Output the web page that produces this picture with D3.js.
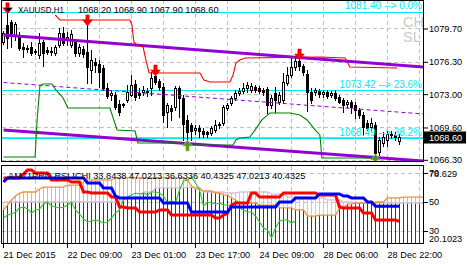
<!DOCTYPE html>
<html><head><meta charset="utf-8">
<script src="https://cdn.jsdelivr.net/npm/d3@7"></script>
<style>
html,body{margin:0;padding:0;background:#fff;overflow:hidden}
svg{display:block}
text{font-family:"Liberation Sans",Arial,sans-serif}
</style>
</head><body>
<svg id="c" width="467" height="265"></svg>
<script>
// ---------------- DATA ----------------
const symbolTitle = "XAUUSD,H1";
const ohlcTitle = "1068.20 1068.90 1067.90 1068.60";
const subTitle = "AM71PRO RSI ICHI 33.8438 47.0213 36.6336 40.4325 47.0213 40.4325";

const timeTickBars = [0,16,32,48,64,80,96];
const timeTickLabels = ["21 Dec 2015","22 Dec 09:00","23 Dec 01:00","23 Dec 17:00","24 Dec 09:00","28 Dec 06:00","28 Dec 22:00"];
const priceTicks = [1079.70,1076.30,1073.00,1069.60,1066.30];
const subLevels = [70,50,30];
const subMaxLabel = "78.629";
const subMinLabel = "20.1023";
const bidPrice = 1068.60;

const fibValues = [1081.40,1073.42,1068.49];
const fibLabels = ["1081.40 --> 0.0%","1073.42 --> 23.6%","1068.49 --> 38.2%"];

const opens = [1078.32,1080.06,1080.36,1079.04,1078.83,1077.81,1077.61,1077.81,1077.30,1077.00,
1078.32,1077.51,1077.30,1077.20,1078.02,1079.24,1078.53,1078.02,1078.32,1077.20,
1077.61,1077.30,1075.47,1076.28,1076.08,1075.67,1073.63,1072.92,1072.92,1072.00,
1071.90,1072.41,1072.92,1074.04,1073.12,1073.22,1073.22,1073.63,1074.86,1074.34,
1073.73,1071.18,1071.59,1071.69,1073.63,1072.61,1070.37,1069.86,1069.35,1069.55,
1069.24,1069.14,1069.04,1069.35,1069.86,1070.06,1071.59,1072.10,1072.61,1073.12,
1073.33,1073.63,1073.43,1073.73,1073.63,1073.43,1073.53,1071.90,1073.12,1072.20,
1072.41,1074.14,1074.96,1075.77,1076.38,1075.88,1075.06,1073.22,1073.22,1073.33,
1073.02,1073.22,1072.92,1073.12,1072.71,1072.41,1072.00,1072.20,1071.90,1071.39,
1070.88,1070.06,1069.65,1069.86,1067.10,1068.02,1068.33,1068.94,1068.84,1068.20];
const highs = [1079.45,1081.40,1080.57,1080.36,1079.34,1078.22,1078.02,1078.32,1077.61,1079.24,
1078.53,1077.81,1077.81,1078.02,1079.75,1079.85,1079.34,1079.55,1078.63,1078.12,
1077.92,1080.16,1077.51,1076.69,1076.49,1075.98,1074.14,1073.43,1073.22,1072.41,
1072.10,1073.94,1074.96,1074.45,1073.63,1073.84,1073.63,1075.26,1075.06,1074.55,
1074.14,1072.10,1071.90,1073.84,1073.84,1072.92,1070.88,1070.06,1069.86,1069.86,
1069.55,1069.24,1069.75,1070.37,1070.16,1071.90,1072.10,1072.82,1073.43,1073.63,
1074.14,1074.24,1074.14,1073.94,1073.84,1073.63,1073.73,1072.92,1073.73,1073.22,
1075.16,1075.77,1076.69,1076.79,1076.69,1076.08,1075.47,1073.63,1073.63,1073.53,
1073.43,1073.43,1073.33,1073.43,1072.92,1072.61,1072.41,1072.41,1072.20,1071.59,
1071.18,1070.37,1070.57,1070.16,1068.63,1069.14,1069.24,1069.24,1069.14,1068.90];
const lows = [1078.12,1077.71,1077.81,1078.53,1077.51,1076.79,1077.30,1077.00,1077.10,1076.69,
1075.88,1077.10,1077.00,1077.00,1077.81,1078.02,1078.02,1077.81,1076.90,1076.90,
1076.79,1074.14,1074.14,1075.26,1073.73,1073.43,1072.61,1072.41,1071.49,1070.88,
1071.69,1072.20,1072.82,1072.41,1072.61,1072.92,1072.82,1072.92,1074.04,1073.43,
1070.16,1069.65,1070.37,1071.39,1070.67,1068.33,1068.02,1068.33,1068.94,1068.63,
1068.63,1068.63,1068.84,1069.14,1069.55,1069.86,1071.39,1071.90,1072.41,1072.92,
1073.12,1073.22,1073.22,1073.22,1073.12,1072.92,1071.08,1071.59,1071.18,1072.00,
1072.10,1073.94,1074.75,1075.47,1075.47,1074.96,1071.28,1072.10,1072.92,1072.71,
1072.71,1072.61,1072.71,1072.41,1072.10,1071.18,1071.69,1071.08,1070.57,1070.57,
1068.84,1069.35,1069.35,1066.59,1066.79,1067.72,1067.72,1068.53,1068.33,1067.90];
const closes = [1079.24,1078.73,1079.24,1080.16,1077.71,1077.61,1077.71,1077.20,1077.41,1078.22,
1077.20,1077.30,1077.41,1077.81,1079.24,1078.22,1078.83,1079.14,1077.20,1077.81,
1077.10,1075.77,1076.49,1075.98,1075.26,1073.63,1072.82,1073.12,1071.69,1071.18,
1072.00,1073.22,1073.94,1072.71,1072.92,1073.43,1073.33,1074.65,1074.24,1073.73,
1070.88,1071.90,1071.28,1073.63,1072.61,1069.96,1069.14,1069.24,1069.55,1069.24,
1068.94,1068.94,1069.55,1069.86,1069.96,1071.69,1071.90,1072.61,1073.12,1073.33,
1073.63,1073.94,1073.84,1073.43,1073.33,1073.22,1071.90,1072.61,1072.41,1072.92,
1074.24,1074.96,1075.77,1076.38,1075.88,1075.26,1073.22,1072.41,1073.43,1073.02,
1073.22,1072.82,1073.12,1072.61,1072.20,1071.90,1072.20,1071.69,1071.39,1070.88,
1069.65,1069.55,1070.06,1067.00,1068.33,1068.63,1068.94,1068.84,1068.63,1068.60];

// channel trend lines: [bar, price] end points
const channelBars = [0,105];
const channelUpper = [1079.04,1075.77];
const channelMid = [1074.19,1070.98];
const channelLower = [1069.34,1066.18];

// stepped envelopes (break points)
const redEnvBars = [12.9,14.1,31.6,32.1,32.6,33.4,34.9,35.6,36.4,49.1,50.1,51.6,56.6,57.4,58.1,59.1,60.4,79.1,85.4,86.6,98.4];
const redEnvPrices = [1081.08,1080.57,1080.57,1080.06,1078.32,1078.02,1077.81,1076.49,1075.16,1075.16,1074.45,1074.24,1074.24,1074.96,1076.18,1076.49,1076.69,1076.79,1076.69,1075.77,1075.67];
const greenEnvBars = [0,7.9,8.4,9.1,9.9,12.1,13.1,14.9,16.1,26.6,28.4,32.9,33.6,44.6,45.4,57.4,58.1,59.1,61.6,62.9,64.6,66.6,71.6,74.1,75.9,77.9,79.1,79.6,92.4];
const greenEnvPrices = [1066.59,1066.59,1070.37,1073.84,1074.04,1074.04,1073.43,1072.61,1071.59,1071.59,1069.35,1069.24,1068.02,1068.02,1067.81,1067.81,1068.33,1068.53,1068.63,1069.35,1070.37,1071.08,1071.08,1070.88,1070.37,1069.35,1068.84,1066.49,1066.49];

const sellSignalBars = [1,21,38,74];
const buySignalBars = [46,93];

// sub-window series
const kijun = [63.8,66.6,66.6,66.6,66.6,66.6,66.6,66.6,66.6,66.6,
66.6,66.6,66.6,66.6,66.6,66.6,66.6,66.6,66.6,66.6,
66.6,63.1,63.1,63.1,63.1,59.7,59.7,59.7,54.1,52.8,
52.8,52.8,52.8,52.8,52.8,52.8,52.8,52.8,52.8,52.8,
49.3,49.3,49.3,49.3,49.3,49.3,49.3,43.1,43.1,43.1,
43.1,43.1,43.1,43.1,43.1,43.1,43.1,46.6,46.6,46.6,
46.6,46.6,46.6,46.6,46.6,46.6,46.6,46.6,46.6,50.0,
50.0,50.0,50.0,52.8,52.8,52.8,52.8,52.8,52.8,55.5,
55.5,55.5,55.5,55.5,55.5,54.1,54.1,52.8,52.8,52.8,
52.8,50.0,50.0,47.02,47.02,47.02,47.02,47.02,47.02,47.02];
const tenkan = [66.6,66.6,66.6,66.6,66.6,69.3,72.1,72.1,70.0,70.0,
70.0,70.0,65.2,65.2,65.2,65.2,65.2,63.8,63.8,63.8,
56.9,56.9,56.2,56.2,56.2,56.2,56.2,53.4,53.4,46.6,
46.6,45.9,45.9,45.9,43.1,43.1,43.1,43.1,43.1,44.5,
44.5,44.5,41.0,41.0,41.0,41.0,41.0,41.0,41.0,41.0,
41.0,41.0,41.0,39.0,39.0,41.0,42.4,47.9,49.3,49.3,
49.3,49.3,56.2,56.2,53.4,53.4,53.4,53.4,53.4,53.4,
56.2,56.2,56.2,56.2,56.2,56.2,56.2,56.2,56.2,54.8,
54.8,54.8,54.8,54.8,46.6,45.9,45.9,45.9,45.9,45.9,
42.4,42.4,42.4,37.6,37.6,37.6,37.6,37.6,37.6,36.63];
const chikou = [39.0,41.0,41.7,43.1,45.9,46.6,45.2,42.4,44.5,45.2,
48.6,50.0,47.2,46.6,45.9,46.6,47.9,50.0,44.5,41.7,
38.3,36.2,36.9,37.6,36.9,35.5,36.2,39.0,42.4,44.5,
51.4,53.4,54.8,56.2,55.5,56.2,54.8,56.9,56.9,56.2,
54.1,49.3,50.7,49.3,58.3,64.5,65.2,67.2,63.1,58.3,
47.2,50.0,49.3,48.6,49.3,47.9,47.9,47.2,46.6,45.9,
44.5,43.1,43.1,40.3,36.2,32.1,30.7,25.2,32.1,36.9,
37.6,37.6,35.5,36.9];
const spanA = [44.5,47.9,51.4,54.1,56.2,56.9,56.9,56.9,56.9,59.0,
60.3,60.3,60.3,60.3,60.3,60.3,61.7,61.7,61.7,61.7,
63.8,65.2,65.2,65.2,65.2,65.2,65.2,65.2,66.6,66.6,
66.6,66.6,66.6,66.6,66.6,66.6,66.6,66.6,66.6,66.6,
66.6,66.6,66.6,66.6,66.6,66.6,65.2,61.0,59.0,59.0,
57.6,57.6,57.6,56.2,56.2,54.8,54.8,52.8,51.4,49.3,
49.3,49.3,49.3,49.3,47.9,47.9,47.9,47.9,47.9,45.9,
45.9,45.9,45.9,44.5,44.5,44.5,40.3,40.3,40.3,41.0,
41.0,41.0,41.0,41.0,45.9,45.9,48.6,48.6,49.3,49.3,
49.3,49.3,49.3,50.0,50.0,50.0,52.8,52.8,52.8,52.8,
53.4,53.4,53.4,53.4,53.4,53.4];
const spanB = [50.0,50.0,50.0,50.0,50.0,50.0,50.0,50.0,50.0,50.0,
50.0,50.0,50.0,50.0,50.0,50.0,50.0,50.0,50.0,50.0,
50.0,50.0,50.0,50.0,50.0,50.0,50.0,50.0,50.0,50.0,
51.4,52.8,53.4,53.4,53.4,56.9,56.9,56.9,59.7,59.7,
59.7,59.7,59.7,59.7,59.7,59.7,60.3,60.3,60.3,60.3,
56.9,56.9,56.9,56.9,56.9,56.9,56.2,56.2,56.2,56.9,
56.9,56.9,56.9,56.9,56.9,56.9,56.9,55.5,55.5,55.5,
55.5,53.4,53.4,53.4,53.4,53.4,53.4,52.8,52.8,52.8,
52.8,51.4,51.4,51.4,51.4,50.0,50.0,50.0,49.3,49.3,
49.3,49.3,49.3,49.3,49.3,49.3,49.3,49.3,49.3,49.3,
49.3,49.3,49.3,49.3,49.3,49.3];

// ---------------- DRAW ----------------
const svg = d3.select("#c");
const FONT = "'Liberation Sans', Arial, sans-serif";
const FS = 9.2;
const mainTop = 0, mainBot = 161, subTop = 166, subBot = 243, left = 2, right = 423;

const xs = d3.scaleLinear().domain([0,105]).range([3,423]);
const px = i => xs(i) + 0.5;
const ym = d3.scaleLinear().domain([1066.18,1082.506]).range([161,1]);
const ys = d3.scaleLinear().domain([21.72,74.83]).range([243,166]);
const ry = v => Math.round(v) + 0.5;

const defs = svg.append("defs");
defs.append("clipPath").attr("id","cm").append("rect").attr("x",left).attr("y",mainTop).attr("width",right-left).attr("height",mainBot-mainTop);
defs.append("clipPath").attr("id","cs").append("rect").attr("x",left).attr("y",subTop).attr("width",right-left).attr("height",subBot-subTop);

const grey = "#c0c0c0";
const gridBars = d3.range(8,105,8);

// ---- main window
const gm = svg.append("g").attr("clip-path","url(#cm)");
gm.selectAll("line.hg").data(priceTicks).join("line")
  .attr("x1",left).attr("x2",right).attr("y1",d=>ry(ym(d))).attr("y2",d=>ry(ym(d)))
  .attr("stroke",grey).attr("stroke-dasharray","4,3").attr("shape-rendering","crispEdges");
gm.selectAll("line.vg").data(gridBars).join("line")
  .attr("x1",px).attr("x2",px).attr("y1",mainTop).attr("y2",mainBot)
  .attr("stroke",grey).attr("stroke-dasharray","4,3").attr("shape-rendering","crispEdges");

const cyan = "#00e8f0";
gm.selectAll("line.fib").data(fibValues).join("line")
  .attr("x1",left).attr("x2",right).attr("y1",d=>ry(ym(d))).attr("y2",d=>ry(ym(d)))
  .attr("stroke",cyan).attr("stroke-width",1.2).attr("shape-rendering","crispEdges");
gm.append("line").attr("x1",left).attr("x2",right).attr("y1",ry(ym(bidPrice))).attr("y2",ry(ym(bidPrice)))
  .attr("stroke","#b8b8b8").attr("shape-rendering","crispEdges");

// candles
const idx = d3.range(opens.length);
gm.append("g").selectAll("line").data(idx).join("line")
  .attr("x1",px).attr("x2",px)
  .attr("y1",i=>Math.round(ym(highs[i]))).attr("y2",i=>Math.round(ym(lows[i]))+1)
  .attr("stroke","#000").attr("shape-rendering","crispEdges");
const bodyTop = i => Math.round(ym(Math.max(opens[i],closes[i])));
const bodyBot = i => Math.round(ym(Math.min(opens[i],closes[i])));
gm.append("g").selectAll("rect").data(idx.filter(i=>bodyBot(i)-bodyTop(i)>=1)).join("rect")
  .attr("x",i=>xs(i)-0.5).attr("width",2)
  .attr("y",i=>bodyTop(i)+0.5).attr("height",i=>bodyBot(i)-bodyTop(i))
  .attr("fill",i=>closes[i]>=opens[i]?"#fff":"#000").attr("stroke","#000").attr("shape-rendering","crispEdges");
gm.append("g").selectAll("line").data(idx.filter(i=>bodyBot(i)-bodyTop(i)<1)).join("line")
  .attr("x1",i=>xs(i)-1).attr("x2",i=>xs(i)+2).attr("y1",i=>bodyTop(i)+0.5).attr("y2",i=>bodyTop(i)+0.5)
  .attr("stroke","#000").attr("shape-rendering","crispEdges");

// channel
const purple = "#9400d3";
const chLine = d3.line().x(d=>xs(d[0])+0.5).y(d=>ym(d[1]));
[[channelUpper,3,null],[channelLower,3,null],[channelMid,1,"4,3"]].forEach(([vals,w,dash])=>{
  gm.append("path").attr("d",chLine(channelBars.map((b,k)=>[b,vals[k]])))
    .attr("fill","none").attr("stroke",purple).attr("stroke-width",w).attr("stroke-dasharray",dash);
});
// envelopes
gm.append("path").attr("d",chLine(redEnvBars.map((b,k)=>[b,redEnvPrices[k]])))
  .attr("fill","none").attr("stroke","#ff0000").attr("stroke-width",1.1);
gm.append("path").attr("d",chLine(greenEnvBars.map((b,k)=>[b,greenEnvPrices[k]])))
  .attr("fill","none").attr("stroke","#008000").attr("stroke-width",1.1);

// arrows
function downArrow(tx,ty){return `M${tx-1.6},${ty-11}L${tx+1.6},${ty-11}L${tx+1.6},${ty-6}L${tx+4.8},${ty-6}L${tx},${ty}L${tx-4.8},${ty-6}L${tx-1.6},${ty-6}Z`;}
function upArrow(tx,ty){return `M${tx-1.6},${ty+11}L${tx+1.6},${ty+11}L${tx+1.6},${ty+6}L${tx+4.8},${ty+6}L${tx},${ty}L${tx-4.8},${ty+6}L${tx-1.6},${ty+6}Z`;}
gm.selectAll("path.sell").data(sellSignalBars).join("path")
  .attr("d",i=>downArrow(px(i),ym(highs[i])+2)).attr("fill","#ff0000").attr("stroke","#e00000").attr("stroke-width",0.6);
gm.selectAll("path.buy").data(buySignalBars).join("path")
  .attr("d",i=>upArrow(px(i),ym(lows[i])-3)).attr("fill","#3a9a2a").attr("stroke","#c0c030").attr("stroke-width",0.8);
// small chart triangle at top-left
gm.append("path").attr("d","M5,8L12,8L8.5,12Z").attr("fill","#000");

// fib labels
gm.selectAll("text.fib").data(fibValues).join("text")
  .attr("x",422).attr("y",d=>ym(d)-2.5).attr("text-anchor","end")
  .attr("font-family",FONT).attr("font-size",10).attr("fill",cyan).text((d,k)=>fibLabels[k]);

// gray watermark texts
gm.append("text").attr("x",403).attr("y",26.5).attr("font-family",FONT).attr("font-size",14.5).attr("fill","#c8c8c8").text("CH");
gm.append("text").attr("x",403).attr("y",42).attr("font-family",FONT).attr("font-size",14.5).attr("fill","#c8c8c8").text("SL");

// title
gm.append("text").attr("x",18).attr("y",13).attr("font-family",FONT).attr("font-size",FS)
  .attr("textLength",46).attr("lengthAdjust","spacingAndGlyphs").text(symbolTitle);
gm.append("text").attr("x",78).attr("y",13).attr("font-family",FONT).attr("font-size",FS).text(ohlcTitle);

// frame
svg.append("rect").attr("x",1.5).attr("y",0.5).attr("width",422).attr("height",161)
  .attr("fill","none").attr("stroke","#000").attr("shape-rendering","crispEdges");

// price axis
const pa = svg.append("g").attr("transform","translate(424,0)")
  .call(d3.axisRight(ym).tickValues(priceTicks).tickFormat(d3.format(".2f")).tickSize(4).tickPadding(1));
pa.select(".domain").remove();
pa.attr("font-family",FONT).attr("font-size",FS).attr("color","#000");

// bid label
svg.append("rect").attr("x",424).attr("y",Math.round(ym(bidPrice))-5.5).attr("width",42).attr("height",12).attr("fill","#000");
svg.append("text").attr("x",429).attr("y",ym(bidPrice)+3.3).attr("font-family",FONT).attr("font-size",FS).attr("fill","#fff").text(d3.format(".2f")(bidPrice));

// ---- sub window
const gs = svg.append("g").attr("clip-path","url(#cs)");
gs.selectAll("line.hg").data(subLevels).join("line")
  .attr("x1",left).attr("x2",right).attr("y1",d=>ry(ys(d))).attr("y2",d=>ry(ys(d)))
  .attr("stroke",grey).attr("stroke-dasharray","4,3").attr("shape-rendering","crispEdges");
gs.selectAll("line.vg").data(gridBars).join("line")
  .attr("x1",px).attr("x2",px).attr("y1",subTop).attr("y2",subBot)
  .attr("stroke",grey).attr("stroke-dasharray","4,3").attr("shape-rendering","crispEdges");

const cIdx = d3.range(spanA.length);
const orange = "#f0903a", thistle = "#d8bfd8";
gs.append("g").selectAll("line").data(cIdx).join("line")
  .attr("x1",px).attr("x2",px).attr("y1",subBot).attr("y2",i=>ys(Math.min(spanA[i],spanB[i])))
  .attr("stroke","#3a3a3a").attr("shape-rendering","crispEdges");
gs.append("g").selectAll("line").data(cIdx).join("line")
  .attr("x1",px).attr("x2",px).attr("y1",i=>ys(Math.min(spanA[i],spanB[i]))).attr("y2",i=>ys(Math.max(spanA[i],spanB[i])))
  .attr("stroke",i=>spanA[i]>=spanB[i]?"#f4ad74":thistle).attr("shape-rendering","crispEdges");

const sl = d3.line().x((d,i)=>px(i)).y(d=>ys(d));
gs.append("path").attr("d",sl(spanB)).attr("fill","none").attr("stroke",thistle).attr("stroke-width",1.3);
gs.append("path").attr("d",sl(spanA)).attr("fill","none").attr("stroke",orange).attr("stroke-width",1.3);
gs.append("path").attr("d",sl(chikou)).attr("fill","none").attr("stroke","#22cc22").attr("stroke-width",1.1);
gs.append("path").attr("d",sl(tenkan)).attr("fill","none").attr("stroke","#ff0000").attr("stroke-width",3);
gs.append("path").attr("d",sl(kijun)).attr("fill","none").attr("stroke","#0000ff").attr("stroke-width",3);

gs.append("text").attr("x",8).attr("y",178.5).attr("font-family",FONT).attr("font-size",FS).text(subTitle);

svg.append("rect").attr("x",1.5).attr("y",165.5).attr("width",422).attr("height",78)
  .attr("fill","none").attr("stroke","#000").attr("shape-rendering","crispEdges");

const sa = svg.append("g").attr("transform","translate(424,0)")
  .call(d3.axisRight(ys).tickValues(subLevels).tickFormat(d3.format("d")).tickSize(4).tickPadding(1));
sa.select(".domain").remove();
sa.attr("font-family",FONT).attr("font-size",FS).attr("color","#000");
svg.append("text").attr("x",429).attr("y",177).attr("font-family",FONT).attr("font-size",FS).text(subMaxLabel);
svg.append("text").attr("x",429).attr("y",241.5).attr("font-family",FONT).attr("font-size",FS).text(subMinLabel);

// time axis
const ta = svg.append("g").attr("transform","translate(0,244)")
  .call(d3.axisBottom(xs).tickValues(timeTickBars).tickFormat((d,k)=>timeTickLabels[k]).tickSize(4).tickPadding(3));
ta.select(".domain").remove();
ta.attr("font-family",FONT).attr("font-size",FS).attr("color","#000");
ta.selectAll("text").attr("text-anchor","start").attr("x",0);
</script>
</body></html>
